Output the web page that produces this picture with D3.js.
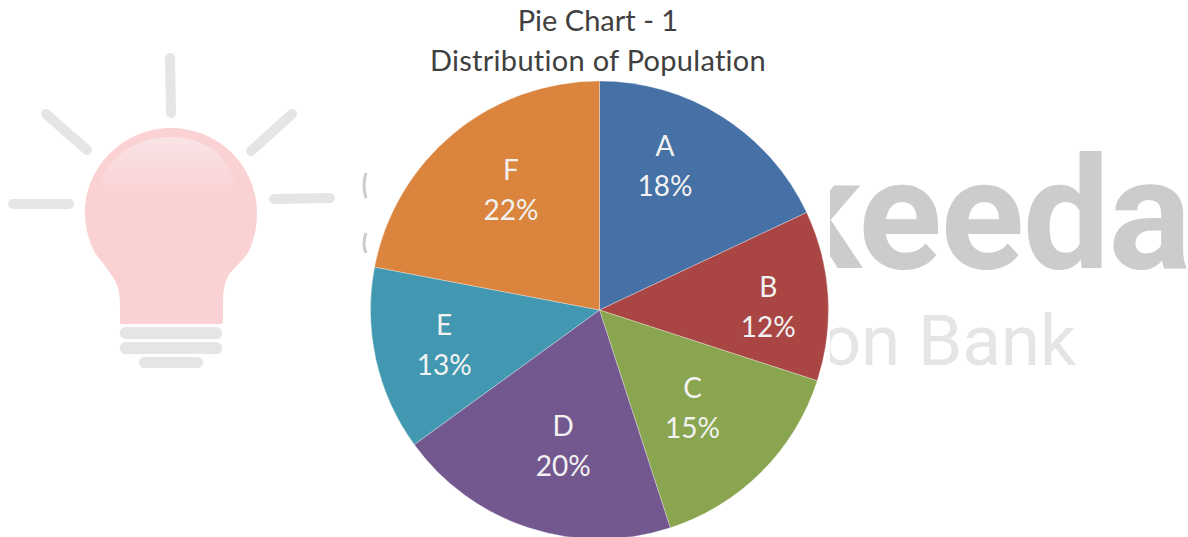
<!DOCTYPE html>
<html>
<head>
<meta charset="utf-8">
<style>
  html, body { margin: 0; padding: 0; background: #fff; }
  svg { display: block; }
  text { font-variant-ligatures: none; }
</style>
</head>
<body>
<script src="https://d3js.org/d3.v7.min.js"></script>
<script>
var categories = ['A', 'B', 'C', 'D', 'E', 'F'];
var shares = [18, 12, 15, 20, 13, 22];
var titleLines = ['Pie Chart - 1', 'Distribution of Population'];

var colors = ['#4571a6', '#a94644', '#8aa54f', '#72588e', '#4198b0', '#db843e'];
// excel moved the labels off the centroid, so nudge each one
var labelNudge = [[-15, -17], [19, 6], [-13, -8], [10, -7], [-9, 2], [7, -4]];

var width = 1188,
    height = 537,
    cx = 599.5,
    cy = 310,
    radius = 229,
    labelFont = 'Lato, "Open Sans", sans-serif';

var svg = d3.select('body').append('svg')
    .attr('width', width)
    .attr('height', height);

var defs = svg.append('defs');
defs.append('clipPath').attr('id', 'wm-clip')
    .append('rect').attr('x', 830).attr('y', 0).attr('width', width - 830).attr('height', height);
var shine = defs.append('linearGradient').attr('id', 'shine')
    .attr('x1', 0).attr('y1', 0).attr('x2', 0).attr('y2', 1);
shine.append('stop').attr('offset', 0).attr('stop-color', '#f9e4e6');
shine.append('stop').attr('offset', 1).attr('stop-color', '#fbd2d4');

// watermark: bulb
var mark = svg.append('g');
var rays = [[170, 58, 171, 113], [46, 114, 87, 150], [292, 114, 251, 151], [13, 204, 69, 204], [274, 199, 330, 198]];
mark.selectAll('line').data(rays).enter().append('line')
    .attr('x1', function(d) { return d[0]; })
    .attr('y1', function(d) { return d[1]; })
    .attr('x2', function(d) { return d[2]; })
    .attr('y2', function(d) { return d[3]; })
    .attr('stroke', '#e5e5e5')
    .attr('stroke-width', 10)
    .attr('stroke-linecap', 'round');
mark.append('path')
    .attr('d', 'M120 324 L120 305 C120 288 116 281 110 273 C105 265 100 260 95 253 C89 241 85 228 85 213 C85 166 124 128 171 128 C219 128 257 166 257 213 C257 228 254 241 248 253 C243 260 236 266 230 273 C225 281 223 288 223 305 L223 321 Q223 324 220 324 Z')
    .attr('fill', '#fbd2d4');
mark.append('path')
    .attr('d', 'M99 192 C104 158 135 137 171 137 C207 137 232 158 237 192 Z')
    .attr('fill', 'url(#shine)');
var bars = [[120, 327, 102, 12], [120, 342, 102, 12], [139, 357, 64, 11]];
mark.selectAll('rect').data(bars).enter().append('rect')
    .attr('x', function(d) { return d[0]; })
    .attr('y', function(d) { return d[1]; })
    .attr('width', function(d) { return d[2]; })
    .attr('height', function(d) { return d[3]; })
    .attr('rx', 5.5)
    .attr('fill', '#e5e5e5');

// watermark: sliver of the S left of the white box
mark.append('path')
    .attr('d', 'M366 173 Q362 185 366 198 M366 233 Q362 244 366 253')
    .attr('fill', 'none')
    .attr('stroke', '#cccccc')
    .attr('stroke-width', 3);

// watermark: the part of the wordmark showing right of the pie
var word = svg.append('g').attr('clip-path', 'url(#wm-clip)')
    .attr('font-family', 'Roboto, sans-serif');
word.append('text')
    .attr('x', 1190).attr('y', 268)
    .attr('text-anchor', 'end')
    .attr('font-size', 155)
    .attr('font-weight', 700)
    .attr('letter-spacing', -1.5)
    .attr('fill', '#cccccc')
    .text('keeda');
word.append('text')
    .attr('x', 1076).attr('y', 365)
    .attr('text-anchor', 'end')
    .attr('font-size', 71)
    .attr('font-weight', 400)
    .attr('fill', '#e4e5e6')
    .text('on Bank');

// title
svg.append('g').selectAll('text')
    .data(titleLines).enter().append('text')
    .attr('x', 598)
    .attr('y', function(d, i) { return 31 + i * 40; })
    .attr('text-anchor', 'middle')
    .attr('font-family', labelFont)
    .attr('font-size', 29)
    .attr('letter-spacing', function(d, i) { return i * 0.28; })
    .attr('fill', '#404040')
    .text(function(d) { return d; });

// pie
var pie = d3.pie().sort(null).value(function(d) { return d; });
var arc = d3.arc().innerRadius(0).outerRadius(radius);
var labelArc = d3.arc().innerRadius(150).outerRadius(150);

var g = svg.append('g')
    .attr('transform', 'translate(' + cx + ',' + cy + ')');

g.selectAll('path')
    .data(pie(shares))
    .enter().append('path')
    .attr('d', arc)
    .attr('fill', function(d, i) { return colors[i]; })
    .attr('stroke', '#ffffff')
    .attr('stroke-opacity', 0.3)
    .attr('stroke-width', 1);

var labels = g.selectAll('g.label')
    .data(pie(shares))
    .enter().append('g')
    .attr('class', 'label')
    .attr('transform', function(d, i) {
        var c = labelArc.centroid(d);
        return 'translate(' + (c[0] + labelNudge[i][0]) + ',' + (c[1] + labelNudge[i][1]) + ')';
    })
    .attr('text-anchor', 'middle')
    .attr('font-family', labelFont)
    .attr('font-size', 28)
    .attr('fill', '#f2f2f2');

labels.append('text')
    .attr('y', -10)
    .text(function(d, i) { return categories[i]; });
labels.append('text')
    .attr('y', 30)
    .text(function(d) { return d.value + '%'; });
</script>
</body>
</html>
